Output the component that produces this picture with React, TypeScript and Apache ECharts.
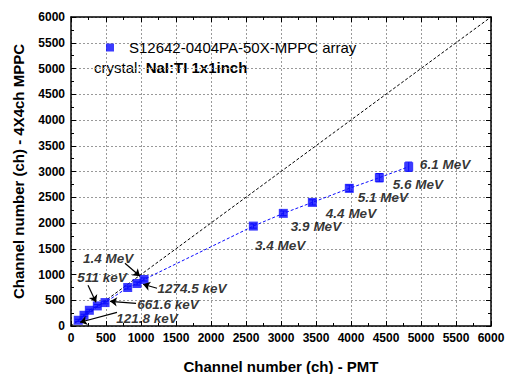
import React, { useEffect, useRef } from "react";
import * as echarts from "echarts";

const FONT = "Liberation Sans, Arial, sans-serif";

// Measured data: PMT channel vs MPPC channel
const pmtChannel = [104, 186, 262, 376, 486, 810, 943, 1043, 2605, 3033, 3448, 3976, 4405, 4824];
const mppcChannel = [111, 208, 305, 390, 455, 747, 825, 903, 1940, 2187, 2400, 2673, 2880, 3093];
const mppcError = [20, 20, 20, 25, 25, 30, 30, 30, 40, 45, 50, 65, 80, 90];

// y = x reference line
const identityRange = [0, 6000];

// Axis ticks
const axisMin = 0;
const axisMax = 6000;
const axisInterval = 500;

// Energy labels placed in data coordinates
const energyLabels = ["121.8 keV", "511 keV", "661.6 keV", "1274.5 keV", "1.4 MeV", "3.4 MeV", "3.9 MeV", "4.4 MeV", "5.1 MeV", "5.6 MeV", "6.1 MeV"];
const energyLabelX = [1086, 443, 1386, 1729, 529, 2986, 3500, 4000, 4457, 4957, 5343];
const energyLabelY = [150, 947, 422, 733, 1317, 1570, 1939, 2192, 2503, 2756, 3145];

// Arrows from labels to points (data coordinates)
const arrowFromX = [657, 243, 929, 1229, 771];
const arrowFromY = [266, 792, 441, 733, 1219];
const arrowToX = [129, 357, 557, 1029, 986];
const arrowToY = [72, 461, 480, 811, 966];

const seriesName = "S12642-0404PA-50X-MPPC array";
const BLUE = "#0a0aff";

export default function App() {
  const ref = useRef<HTMLDivElement>(null);
  useEffect(() => {
    document.body.style.margin = "0";
    if (!ref.current) return;
    const chart = echarts.init(ref.current, undefined, { renderer: "svg" });
    const points = pmtChannel.map((x, i) => [x, mppcChannel[i]]);
    const errs = pmtChannel.map((x, i) => [x, mppcChannel[i], mppcError[i]]);
    const labels = energyLabels.map((n, i) => ({ name: n, value: [energyLabelX[i], energyLabelY[i]] }));
    const arrows = arrowFromX.map((x, i) => ({
      coords: [
        [x, arrowFromY[i]],
        [arrowToX[i], arrowToY[i]],
      ],
    }));
    const axisCommon = {
      min: axisMin,
      max: axisMax,
      interval: axisInterval,
      axisLine: { show: true, onZero: false, lineStyle: { color: "#000", width: 1.5 } },
      axisTick: { show: true, inside: true, length: 5, lineStyle: { color: "#000", width: 1 } },
      minorTick: { show: true, splitNumber: 2, length: 3, lineStyle: { color: "#000" } },
    };
    const tickLabel = {
      fontFamily: FONT,
      fontSize: 12,
      fontWeight: "bold",
      color: "#000",
      margin: 6,
      formatter: (v: number) => String(v),
    };
    chart.setOption({
      animation: false,
      grid: { left: 71, right: 16, top: 17, bottom: 48, containLabel: false, outerBoundsMode: "none" },
      legend: {
        left: 106,
        top: 40,
        padding: 0,
        itemWidth: 8,
        itemHeight: 8,
        data: [{ name: seriesName, icon: "rect" }],
        textStyle: { fontFamily: FONT, fontSize: 15, color: "#000", padding: [0, 0, 0, 10] },
      },
      graphic: [
        {
          type: "text",
          left: 94,
          top: 60,
          style: {
            text: "{n|crystal: }{b|NaI:TI 1x1inch}",
            rich: {
              n: { fontFamily: FONT, fontSize: 15, fill: "#000" },
              b: { fontFamily: FONT, fontSize: 15, fontWeight: "bold", fill: "#000" },
            },
          },
        },
      ],
      xAxis: [
        {
          ...axisCommon,
          type: "value",
          position: "bottom",
          name: "Channel number (ch) - PMT",
          nameLocation: "middle",
          nameGap: 33,
          nameTextStyle: { fontFamily: FONT, fontSize: 15, fontWeight: "bold", color: "#000" },
          axisLabel: tickLabel,
          splitLine: { show: true, lineStyle: { color: "#999", type: [2, 2], width: 1 } },
        },
        {
          ...axisCommon,
          type: "value",
          position: "top",
          axisLabel: { show: false },
          splitLine: { show: false },
        },
      ],
      yAxis: [
        {
          ...axisCommon,
          type: "value",
          position: "left",
          name: "Channel number (ch) - 4X4ch MPPC",
          nameLocation: "middle",
          nameGap: 45,
          nameTextStyle: { fontFamily: FONT, fontSize: 15, fontWeight: "bold", color: "#000" },
          axisLabel: tickLabel,
          splitLine: { show: true, lineStyle: { color: "#999", type: [2, 2], width: 1 } },
        },
        {
          ...axisCommon,
          type: "value",
          position: "right",
          axisLabel: { show: false },
          splitLine: { show: false },
        },
      ],
      series: [
        {
          name: "identity",
          type: "line",
          data: identityRange.map((v) => [v, v]),
          symbol: "none",
          lineStyle: { color: "#000", width: 1, type: [3, 2] },
          silent: true,
          z: 1,
        },
        {
          name: "fit",
          type: "line",
          data: points,
          symbol: "none",
          lineStyle: { color: BLUE, width: 1, type: [3, 2] },
          z: 2,
        },
        {
          name: "errors",
          type: "custom",
          data: errs,
          encode: { x: 0, y: 1 },
          z: 3,
          renderItem: (params: any, api: any) => {
            const x = api.value(0);
            const y = api.value(1);
            const e = api.value(2);
            const top = api.coord([x, y + e]);
            const bot = api.coord([x, y - e]);
            const w = 3.5;
            const style = { stroke: BLUE, lineWidth: 1 };
            return {
              type: "group",
              children: [
                { type: "line", shape: { x1: top[0], y1: top[1], x2: bot[0], y2: bot[1] }, style },
                { type: "line", shape: { x1: top[0] - w, y1: top[1], x2: top[0] + w, y2: top[1] }, style },
                { type: "line", shape: { x1: bot[0] - w, y1: bot[1], x2: bot[0] + w, y2: bot[1] }, style },
              ],
            };
          },
        },
        {
          name: seriesName,
          type: "scatter",
          data: points,
          symbol: "rect",
          symbolSize: 9,
          itemStyle: { color: BLUE },
          z: 4,
        },
        {
          name: "arrows",
          type: "lines",
          coordinateSystem: "cartesian2d",
          data: arrows,
          symbol: ["none", "arrow"],
          symbolSize: 7,
          lineStyle: { color: "#000", width: 1.2, opacity: 1 },
          silent: true,
          z: 5,
        },
        {
          name: "labels",
          type: "scatter",
          data: labels,
          symbol: "rect",
          symbolSize: 1,
          itemStyle: { color: "rgba(0,0,0,0)" },
          label: {
            show: true,
            position: "inside",
            formatter: (p: any) => p.name,
            fontFamily: FONT,
            fontSize: 13.5,
            fontWeight: "bold",
            fontStyle: "italic",
            color: "#000",
          },
          silent: true,
          z: 6,
        },
      ],
    });
    return () => chart.dispose();
  }, []);
  return <div ref={ref} style={{ width: 507, height: 374 }} />;
}
